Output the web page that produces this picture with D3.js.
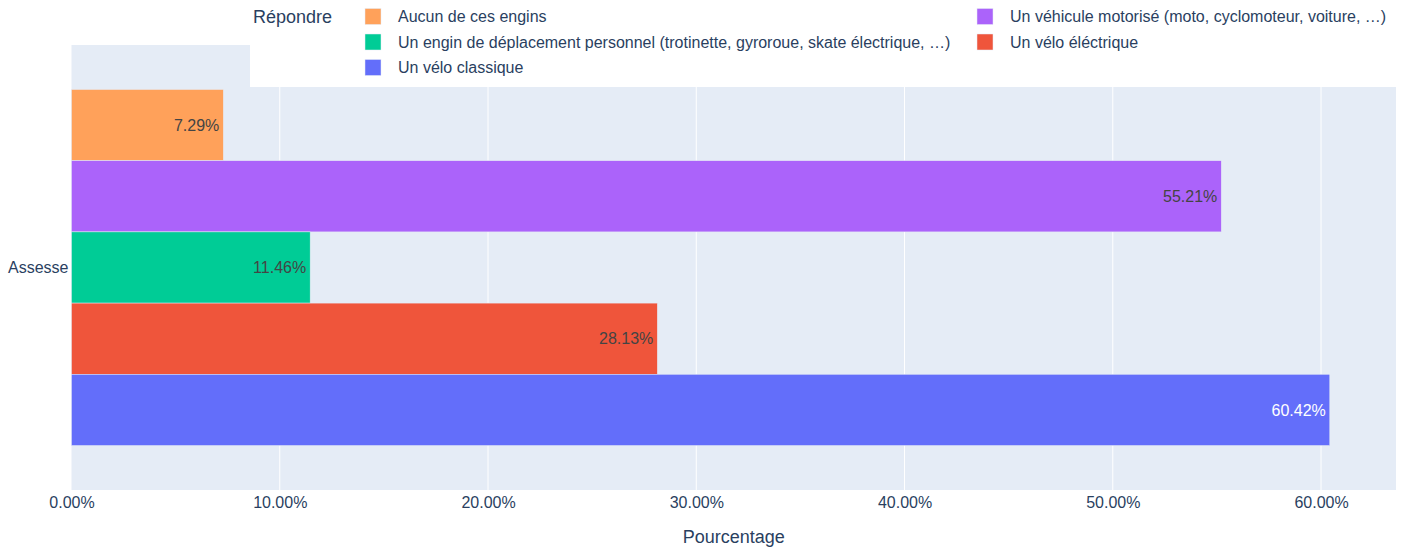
<!DOCTYPE html>
<html>
<head>
<meta charset="utf-8">
<script src="https://cdn.jsdelivr.net/npm/d3@7"></script>
<style>
  body { margin: 0; background: #fff; }
  text { font-family: "Liberation Sans", Arial, sans-serif; }
</style>
</head>
<body>
<script>
const categories = ["Assesse"];
// top to bottom, same as the legend order
const seriesNames = [
  "Aucun de ces engins",
  "Un véhicule motorisé (moto, cyclomoteur, voiture, …)",
  "Un engin de déplacement personnel (trotinette, gyroroue, skate électrique, …)",
  "Un vélo éléctrique",
  "Un vélo classique"
];
const seriesValues = [7.29, 55.21, 11.46, 28.13, 60.42];
const seriesColors = ["#FFA15A", "#AB63FA", "#00CC96", "#EF553B", "#636EFA"];
const xTicks = [0, 10, 20, 30, 40, 50, 60];
const xMax = 63.6;

const W = 1408, H = 552;
const plotL = 71.5, plotR = 1396, plotT = 45, plotB = 490;

const svg = d3.select('body').append('svg')
  .attr('width', W)
  .attr('height', H)
  .attr('xmlns', 'http://www.w3.org/2000/svg');

const x = d3.scaleLinear().domain([0, xMax]).range([plotL, plotR]);
const y0 = d3.scaleBand().domain(categories).range([plotT, plotB])
  .paddingInner(0.2).paddingOuter(0.1);
const y1 = d3.scaleBand().domain(seriesNames).range([0, y0.bandwidth()]);

svg.append('rect')
  .attr('x', plotL).attr('y', plotT)
  .attr('width', plotR - plotL).attr('height', plotB - plotT)
  .style('fill', '#E5ECF6');

// grid
svg.append('g').selectAll('line')
  .data(xTicks.slice(1))
  .join('line')
  .attr('x1', d => x(d)).attr('x2', d => x(d))
  .attr('y1', plotT).attr('y2', plotB)
  .style('stroke', '#fff').style('stroke-width', 1);

// bars
const rows = seriesNames.map((name, i) => ({ name, value: seriesValues[i], color: seriesColors[i] }));
const g = svg.append('g').attr('transform', `translate(0,${y0(categories[0])})`);

g.selectAll('rect')
  .data(rows)
  .join('rect')
  .attr('x', x(0))
  .attr('y', d => y1(d.name))
  .attr('width', d => x(d.value) - x(0))
  .attr('height', y1.bandwidth())
  .style('fill', d => d.color)
  .style('stroke', '#E5ECF6')
  .style('stroke-width', 0.5);

g.selectAll('text')
  .data(rows)
  .join('text')
  .attr('x', d => x(d.value) - 4)
  .attr('y', d => y1(d.name) + y1.bandwidth() / 2)
  .attr('dy', '0.35em')
  .attr('text-anchor', 'end')
  .attr('font-size', 16)
  .style('fill', d => d.color === '#636EFA' ? '#fff' : '#444')
  .text(d => d.value.toFixed(2) + '%');

// x axis
const xAxis = svg.append('g')
  .attr('transform', `translate(0,${plotB})`)
  .call(d3.axisBottom(x).tickValues(xTicks).tickSize(0).tickPadding(7)
    .tickFormat(d => d.toFixed(2) + '%'));
xAxis.select('.domain').remove();
xAxis.attr('font-size', null).attr('font-family', null);
xAxis.selectAll('text')
  .style('font-size', '16px')
  .style('fill', '#2a3f5f');

svg.append('text')
  .attr('x', (plotL + plotR) / 2)
  .attr('y', 537)
  .attr('dy', '0.35em')
  .attr('text-anchor', 'middle')
  .attr('font-size', 18)
  .style('fill', '#2a3f5f')
  .text('Pourcentage');

// y tick
svg.append('text')
  .attr('x', plotL - 3)
  .attr('y', y0(categories[0]) + y0.bandwidth() / 2)
  .attr('dy', '0.35em')
  .attr('text-anchor', 'end')
  .attr('font-size', 16)
  .style('fill', '#2a3f5f')
  .text(categories[0]);

// legend
const legend = svg.append('g');
legend.append('rect')
  .attr('x', 250).attr('y', 0)
  .attr('width', W - 250).attr('height', 87)
  .style('fill', '#fff');

legend.append('text')
  .attr('x', 253).attr('y', 17)
  .attr('dy', '0.35em')
  .attr('font-size', 18)
  .style('fill', '#2a3f5f')
  .text('Répondre');

const colX = [365, 977];
const items = legend.selectAll('g.item')
  .data(rows)
  .join('g')
  .attr('class', 'item')
  .attr('transform', (d, i) => `translate(${colX[i % 2]},${16.5 + Math.floor(i / 2) * 25.5})`);

items.append('rect')
  .attr('x', 0).attr('y', -8)
  .attr('width', 16).attr('height', 16)
  .style('fill', d => d.color)
  .style('stroke', '#E5ECF6')
  .style('stroke-width', 0.5);

items.append('text')
  .attr('x', 33)
  .attr('dy', '0.35em')
  .attr('font-size', 16)
  .style('fill', '#2a3f5f')
  .text(d => d.name);
</script>
</body>
</html>
